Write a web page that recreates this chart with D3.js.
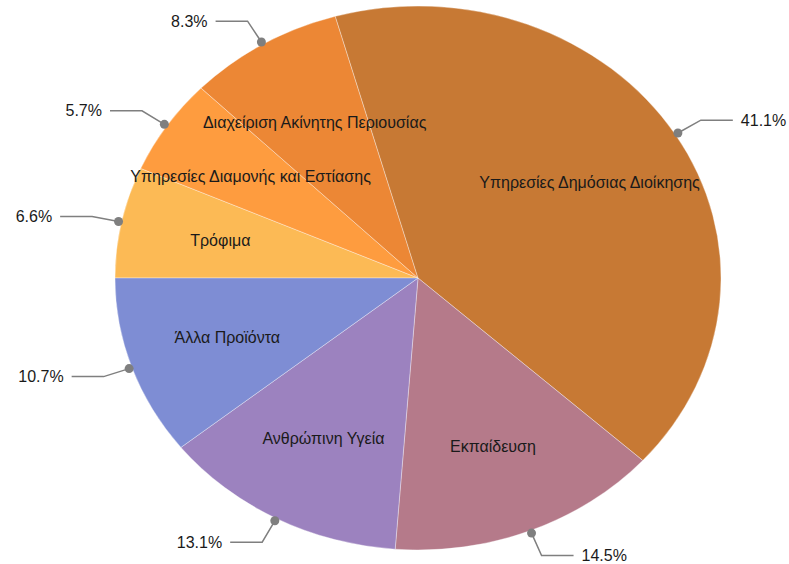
<!DOCTYPE html>
<html><head><meta charset="utf-8">
<script src="https://cdn.jsdelivr.net/npm/d3@7"></script>
<style>body{margin:0;background:#fff}svg{display:block}</style>
</head><body>
<script>
const categories = ["Τρόφιμα","Υπηρεσίες Διαμονής και Εστίασης","Διαχείριση Ακίνητης Περιουσίας","Υπηρεσίες Δημόσιας Διοίκησης","Εκπαίδευση","Ανθρώπινη Υγεία","Άλλα Προϊόντα"];
const values = [6.6, 5.7, 8.3, 41.1, 14.5, 13.1, 10.7];
const pctLabels = ["6.6%","5.7%","8.3%","41.1%","14.5%","13.1%","10.7%"];
const colors = ["#FCBA55","#FE9C3F","#EC8735","#C77934","#B57A8A","#9C82BF","#7E8DD4"];

const W = 789, H = 564;
const cx = 418, cy = 278, R = 303, sy = 272/303;
const svg = d3.select("body").append("svg").attr("width", W).attr("height", H);

const pie = d3.pie().sort(null).value(d => d).startAngle(-Math.PI/2).endAngle(1.5*Math.PI);
const arcs = pie(values);
const arc = d3.arc().innerRadius(0).outerRadius(R);

const g = svg.append("g").attr("transform", `translate(${cx},${cy}) scale(1,${sy})`);
g.selectAll("path").data(arcs).join("path")
  .attr("d", arc)
  .attr("fill", (d,i) => colors[i])
  .attr("stroke", "rgba(255,255,255,0.35)")
  .attr("stroke-width", 1)
  .attr("vector-effect", "non-scaling-stroke");

function pos(a, r){ return [cx + r*Math.sin(a), cy - r*Math.cos(a)*sy]; }
const font = "'Liberation Sans', Arial, sans-serif";

// inside labels
svg.selectAll("text.in").data(arcs).join("text")
  .attr("class","in")
  .attr("x", d => pos((d.startAngle+d.endAngle)/2, R*2/3)[0])
  .attr("y", d => pos((d.startAngle+d.endAngle)/2, R*2/3)[1])
  .attr("text-anchor","middle").attr("dominant-baseline","central")
  .attr("font-family", font).attr("font-size", 16).attr("fill","#1a1a1a")
  .text((d,i) => categories[i]);

// outer leaders
arcs.forEach((d,i) => {
  const a = (d.startAngle+d.endAngle)/2;
  const p0 = pos(a, R+3), p1 = pos(a, R+30);
  const right = Math.sin(a) >= 0;
  const p2 = [p1[0] + (right ? 32 : -32), p1[1]];
  svg.append("polyline")
    .attr("points", [p0,p1,p2].map(p=>p.join(",")).join(" "))
    .attr("fill","none").attr("stroke","#7f7f7f").attr("stroke-width",1.5);
  svg.append("circle").attr("cx",p0[0]).attr("cy",p0[1]).attr("r",4.5).attr("fill","#7f7f7f");
  svg.append("text")
    .attr("x", p2[0] + (right ? 8 : -8)).attr("y", p2[1])
    .attr("text-anchor", right ? "start" : "end").attr("dominant-baseline","central")
    .attr("font-family", font).attr("font-size", 16).attr("fill","#1a1a1a")
    .text(pctLabels[i]);
});
</script>
</body></html>
